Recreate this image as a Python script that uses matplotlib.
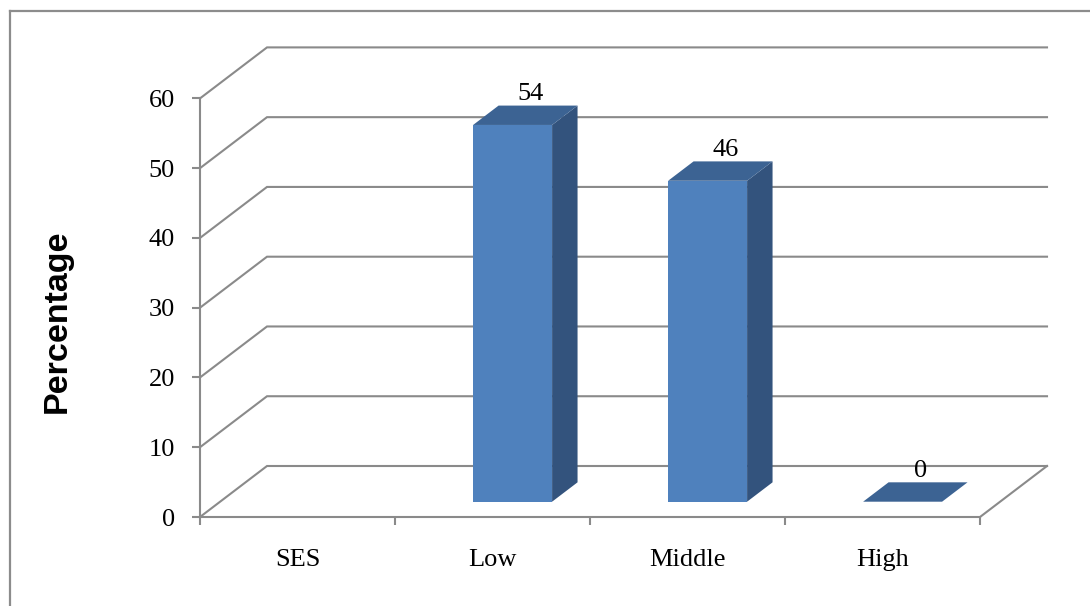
import numpy as np
import matplotlib
matplotlib.use('Agg')
import matplotlib.pyplot as plt
from matplotlib.patches import Polygon
from matplotlib.lines import Line2D

# SES distribution (percent of respondents)
categories = ['SES', 'Low', 'Middle', 'High']
values = [np.nan, 54, 46, 0]
y_ticks = [0, 10, 20, 30, 40, 50, 60]

plt.rcParams['font.family'] = ['Liberation Serif', 'DejaVu Serif']

W, H = 1090, 606
fig = plt.figure(figsize=(W / 100, H / 100), dpi=100)
ax = fig.add_axes([200 / W, 89 / H, 780 / W, 418.6 / H])
ax.set_xlim(0, len(categories))
ax.set_ylim(0, 60)
ax.patch.set_visible(False)

grid_col = '#8a8a8a'
front_col = '#4f81bd'
side_col = '#33537d'
top_col = '#3c6393'

# depth of the 3-D box in data units
DX, DY = 0.3436, 7.31
# bar width, offset of the front face into the box, and bar depth
BW, F0, FB = 0.405, 0.30, 0.38
n = len(categories)

# back wall and side wall gridlines
for v in y_ticks:
    ax.plot([0, DX, n + DX], [v, v + DY, v + DY], color=grid_col, lw=1.5,
            clip_on=False, zorder=1, solid_joinstyle='miter')
ax.plot([n, n + DX], [0, DY], color=grid_col, lw=1.5, clip_on=False, zorder=1)

# front axes
for side in ['top', 'right']:
    ax.spines[side].set_visible(False)
for side in ['left', 'bottom']:
    ax.spines[side].set_color(grid_col)
    ax.spines[side].set_linewidth(1.5)
    ax.spines[side].set_zorder(2)

ax.set_yticks(y_ticks)
ax.set_yticklabels([str(t) for t in y_ticks])
ax.tick_params(axis='y', direction='out', length=5.5, width=1.5, color=grid_col,
               pad=12.5, labelsize=19)
ax.set_xticks(range(n + 1))
ax.set_xticklabels([])
ax.tick_params(axis='x', which='major', direction='out', length=6, width=1.5,
               color=grid_col)
ax.set_xticks(np.arange(n) + 0.5, minor=True)
ax.set_xticklabels(categories, minor=True)
ax.tick_params(axis='x', which='minor', length=0, pad=23, labelsize=19)

# 3-D bars: front face, right side, top
for i, v in enumerate(values):
    if np.isnan(v):
        continue
    x0 = i + 0.5 - BW / 2 + F0 * DX
    y0 = F0 * DY
    ddx, ddy = FB * DX, FB * DY
    front = [(x0, y0), (x0 + BW, y0), (x0 + BW, y0 + v), (x0, y0 + v)]
    side = [(x0 + BW, y0), (x0 + BW + ddx, y0 + ddy),
            (x0 + BW + ddx, y0 + ddy + v), (x0 + BW, y0 + v)]
    top = [(x0, y0 + v), (x0 + BW, y0 + v),
           (x0 + BW + ddx, y0 + v + ddy), (x0 + ddx, y0 + v + ddy)]
    for pts, col in [(side, side_col), (front, front_col), (top, top_col)]:
        ax.add_patch(Polygon(pts, closed=True, facecolor=col, edgecolor='none',
                             clip_on=False, zorder=3))
    ax.annotate(f'{v:g}', xy=(i + 0.5 + (F0 + 0.7 * FB) * DX, v + (F0 + FB) * DY),
                xytext=(0, 4), textcoords='offset points', ha='center',
                va='baseline', fontsize=19, zorder=4, annotation_clip=False)

ax.text(-0.73, 28, 'Percentage', rotation=90, ha='center', va='center',
        fontsize=24.5, fontweight='bold', family=['Liberation Sans', 'DejaVu Sans'],
        transform=ax.transData)

# chart area border (top and left edges)
fig.add_artist(Line2D([10 / W, 1], [1 - 11 / H, 1 - 11 / H], color='#8c8c8c',
                      lw=1.6, transform=fig.transFigure))
fig.add_artist(Line2D([10 / W, 10 / W], [0, 1 - 11 / H], color='#8c8c8c',
                      lw=1.6, transform=fig.transFigure))

fig.savefig('out.png', dpi=100)
